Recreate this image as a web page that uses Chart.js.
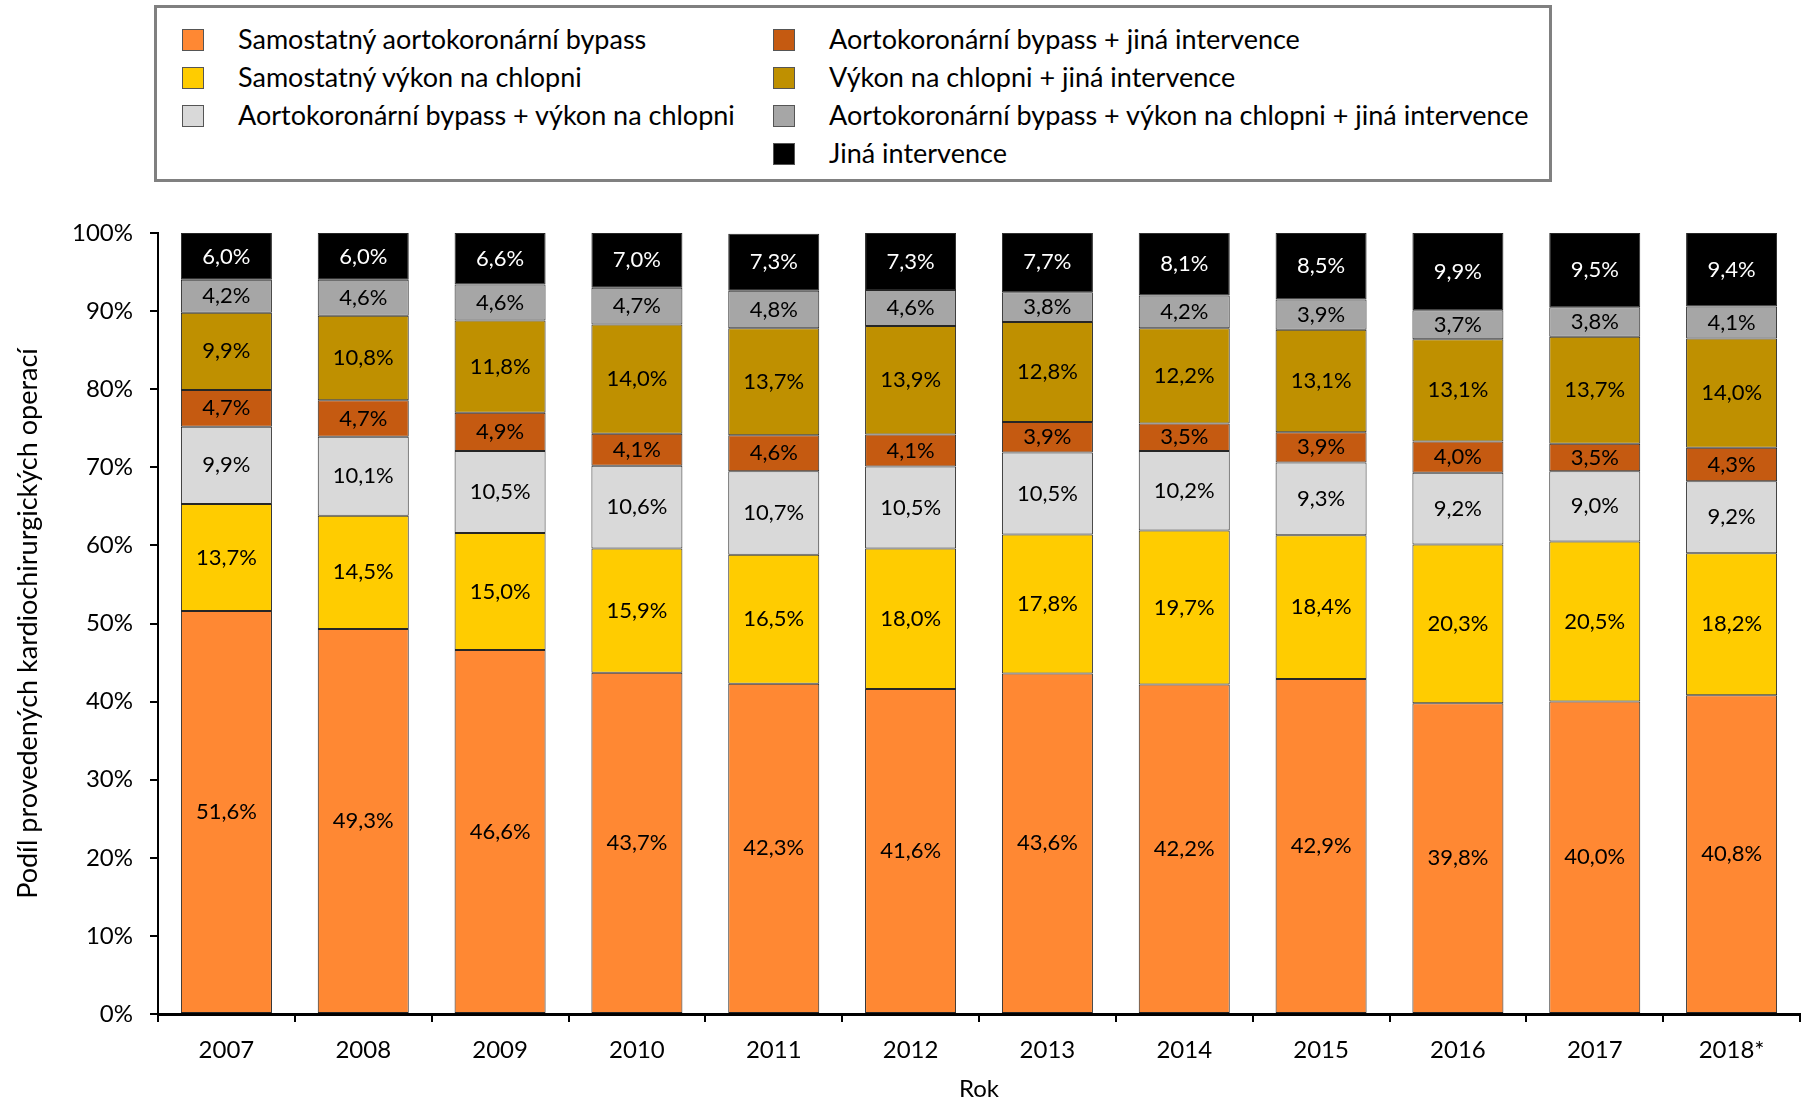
<!DOCTYPE html>
<html lang="cs">
<head>
<meta charset="utf-8">
<title>Podíl provedených kardiochirurgických operací</title>
<script src="https://cdn.jsdelivr.net/npm/chart.js@4.4.1/dist/chart.umd.min.js"></script>
<style>
    html, body { margin: 0; padding: 0; background: #fff; }
    #wrap { position: relative; width: 1801px; height: 1101px; }
    #chart { position: absolute; left: 0; top: 0; }
    #legend {
        position: absolute; left: 154px; top: 5px; width: 1392px; height: 171px;
        border: 3px solid #808080; background: #fff;
        font-family: Lato, "Open Sans", sans-serif; font-size: 27px; color: #000;
    }
    .item { position: absolute; height: 30px; line-height: 30px; white-space: nowrap; }
    .swatch { position: absolute; left: 0; top: 4px; width: 20px; height: 20px; border: 1px solid #555; }
    .label { position: absolute; left: 56px; top: -1px; }
</style>
</head>
<body>
<div id="wrap">
    <canvas id="chart" width="1801" height="1101"></canvas>
    <div id="legend"></div>
</div>
<script>
const years = ['2007', '2008', '2009', '2010', '2011', '2012', '2013', '2014', '2015', '2016', '2017', '2018*'];

const seriesNames = [
    'Samostatný aortokoronární bypass',
    'Samostatný výkon na chlopni',
    'Aortokoronární bypass + výkon na chlopni',
    'Aortokoronární bypass + jiná intervence',
    'Výkon na chlopni + jiná intervence',
    'Aortokoronární bypass + výkon na chlopni + jiná intervence',
    'Jiná intervence'
];

const bypassOnly   = [51.6, 49.3, 46.6, 43.7, 42.3, 41.6, 43.6, 42.2, 42.9, 39.8, 40.0, 40.8];
const valveOnly    = [13.7, 14.5, 15.0, 15.9, 16.5, 18.0, 17.8, 19.7, 18.4, 20.3, 20.5, 18.2];
const bypassValve  = [9.9, 10.1, 10.5, 10.6, 10.7, 10.5, 10.5, 10.2, 9.3, 9.2, 9.0, 9.2];
const bypassOther  = [4.7, 4.7, 4.9, 4.1, 4.6, 4.1, 3.9, 3.5, 3.9, 4.0, 3.5, 4.3];
const valveOther   = [9.9, 10.8, 11.8, 14.0, 13.7, 13.9, 12.8, 12.2, 13.1, 13.1, 13.7, 14.0];
const allThree     = [4.2, 4.6, 4.6, 4.7, 4.8, 4.6, 3.8, 4.2, 3.9, 3.7, 3.8, 4.1];
const otherOnly    = [6.0, 6.0, 6.6, 7.0, 7.3, 7.3, 7.7, 8.1, 8.5, 9.9, 9.5, 9.4];

const yTicks = [0, 10, 20, 30, 40, 50, 60, 70, 80, 90, 100];

const seriesData = [bypassOnly, valveOnly, bypassValve, bypassOther, valveOther, allThree, otherOnly];
const seriesColors = ['#FF8833', '#FFCC00', '#D9D9D9', '#C55A11', '#BF9000', '#A6A6A6', '#000000'];
const labelColors = ['#000', '#000', '#000', '#000', '#000', '#000', '#fff'];

const FONT = 'Lato, "Open Sans", sans-serif';

// legend, two columns like the original
const legendPos = [[0, 0], [0, 1], [0, 2], [1, 0], [1, 1], [1, 2], [1, 3]];
const legendEl = document.getElementById('legend');
seriesNames.forEach((name, i) => {
    const [col, row] = legendPos[i];
    const item = document.createElement('div');
    item.className = 'item';
    item.style.left = (col === 0 ? 25 : 616) + 'px';
    item.style.top = (17 + row * 38) + 'px';
    item.innerHTML = '<span class="swatch" style="background:' + seriesColors[i] + '"></span><span class="label"></span>';
    item.querySelector('.label').textContent = name;
    legendEl.appendChild(item);
});

const segmentLabels = {
    id: 'segmentLabels',
    afterDatasetsDraw(chart) {
        const ctx = chart.ctx;
        ctx.save();
        ctx.font = '22px ' + FONT;
        ctx.textAlign = 'center';
        ctx.textBaseline = 'middle';
        chart.data.datasets.forEach((ds, i) => {
            const meta = chart.getDatasetMeta(i);
            meta.data.forEach((bar, j) => {
                const v = ds.data[j];
                ctx.fillStyle = labelColors[i];
                ctx.fillText(v.toFixed(1).replace('.', ',') + '%', bar.x, (bar.y + bar.base) / 2);
            });
        });
        ctx.restore();
    }
};

new Chart(document.getElementById('chart'), {
    type: 'bar',
    data: {
        labels: years,
        datasets: seriesData.map((d, i) => ({
            label: seriesNames[i],
            data: d,
            backgroundColor: seriesColors[i],
            borderColor: '#262626',
            borderWidth: 1,
            borderSkipped: false,
            barPercentage: 0.665,
            categoryPercentage: 1
        }))
    },
    options: {
        responsive: false,
        animation: false,
        layout: { padding: { top: 233, right: 1, left: 0, bottom: 0 } },
        plugins: {
            legend: { display: false },
            tooltip: { enabled: false }
        },
        scales: {
            x: {
                stacked: true,
                grid: { display: true, drawOnChartArea: false, offset: true, tickLength: 8, color: '#000', lineWidth: 2 },
                border: { display: true, color: '#000', width: 3 },
                ticks: { color: '#000', font: { family: FONT, size: 24 }, padding: 14, maxRotation: 0 },
                title: { display: true, text: 'Rok', color: '#000', font: { family: FONT, size: 24, lineHeight: 1 }, padding: { top: 0, bottom: 0 } },
                afterFit(scale) { scale.height = 87; }
            },
            y: {
                stacked: true,
                min: 0,
                max: 100,
                afterBuildTicks(scale) { scale.ticks = yTicks.map(v => ({ value: v })); },
                grid: { display: true, drawOnChartArea: false, tickLength: 8, color: '#000', lineWidth: 2 },
                border: { display: true, color: '#000', width: 2 },
                ticks: { color: '#000', font: { family: FONT, size: 24 }, padding: 17, callback: v => v + '%' },
                title: { display: true, text: 'Podíl provedených kardiochirurgických operací', color: '#000', font: { family: FONT, size: 27 }, padding: { top: 12, bottom: 0 } },
                afterFit(scale) { scale.width = 158; }
            }
        }
    },
    plugins: [segmentLabels]
});
</script>
</body>
</html>
